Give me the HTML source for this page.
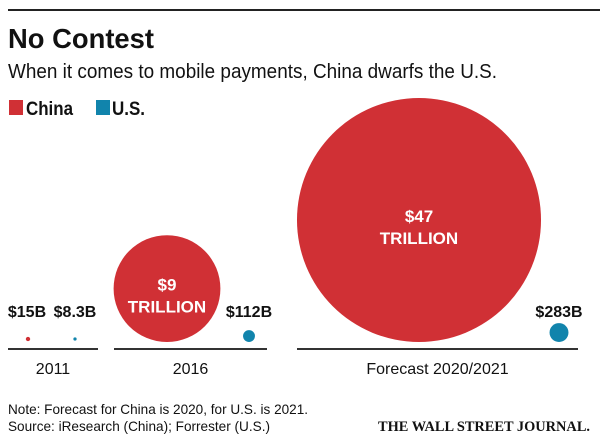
<!DOCTYPE html>
<html><head><meta charset="utf-8"><style>
html,body{margin:0;padding:0;background:#fff;}
svg{display:block;font-family:"Liberation Sans",sans-serif;}
</style></head><body>
<svg id="chart" width="600" height="443" viewBox="0 0 600 443" xmlns="http://www.w3.org/2000/svg">
<line x1="8" y1="10" x2="600" y2="10" stroke="#222" stroke-width="2"/>
<text x="8" y="48" font-size="28" font-weight="bold" fill="#111" textLength="146" lengthAdjust="spacingAndGlyphs">No Contest</text>
<text x="8" y="78" font-size="20" fill="#111" textLength="489" lengthAdjust="spacingAndGlyphs">When it comes to mobile payments, China dwarfs the U.S.</text>
<g>
<rect x="9" y="100" width="14" height="15" fill="#d03035"/>
<text x="26" y="115" font-size="19" font-weight="bold" fill="#111" textLength="47" lengthAdjust="spacingAndGlyphs">China</text>
<rect x="96" y="100" width="14" height="15" fill="#1184ac"/>
<text x="112" y="115" font-size="19" font-weight="bold" fill="#111" textLength="33" lengthAdjust="spacingAndGlyphs">U.S.</text>
</g>
<g id="marks"></g>
<text x="8" y="414" font-size="14" fill="#111" textLength="300" lengthAdjust="spacingAndGlyphs">Note: Forecast for China is 2020, for U.S. is 2021.</text>
<text x="8" y="431" font-size="14" fill="#111" textLength="262" lengthAdjust="spacingAndGlyphs">Source: iResearch (China); Forrester (U.S.)</text>
<text x="590" y="431" text-anchor="end" font-family="'Liberation Serif',serif" font-size="15" font-weight="bold" fill="#111" textLength="212" lengthAdjust="spacingAndGlyphs">THE WALL STREET JOURNAL.</text>
</svg>
<script>
const periods = ["2011", "2016", "Forecast 2020/2021"];
const chinaValues = [15, 9000, 47000];   // billions USD
const usValues = [8.3, 112, 283];        // billions USD
const chinaLabels = [["$15B"], ["$9", "TRILLION"], ["$47", "TRILLION"]];
const usLabels = ["$8.3B", "$112B", "$283B"];

const NS = "http://www.w3.org/2000/svg";
const g = document.getElementById("marks");
const groupX = [[8, 98], [114, 267], [297, 578]];
const chinaCx = [28, 167, 419];
const usCx = [75, 249, 559];
const baseY = 349;
const bubbleBottom = 342;
function rScale(v) { return 0.5628 * Math.sqrt(v); }
function mk(tag, attrs) {
  const e = document.createElementNS(NS, tag);
  for (const k in attrs) e.setAttribute(k, attrs[k]);
  g.appendChild(e);
  return e;
}
periods.forEach((p, i) => {
  const ln = mk("line", {x1: groupX[i][0], x2: groupX[i][1], y1: baseY, y2: baseY, stroke: "#333", "stroke-width": 2});
  
  
  const yl = mk("text", {x: (groupX[i][0] + groupX[i][1]) / 2, y: 374, "text-anchor": "middle", "font-size": 16, fill: "#111"});
  yl.textContent = p;
  
  

  const rc = Math.max(rScale(chinaValues[i]), 2);
  const ccy = i === 0 ? 339 : bubbleBottom - rc;
  const cc = mk("circle", {cx: chinaCx[i], cy: ccy, r: rc, fill: "#d03035"});
  
  
  const ru = Math.max(rScale(usValues[i]), 1.5);
  const ucy = i === 0 ? 339 : bubbleBottom - ru;
  const cu = mk("circle", {cx: usCx[i], cy: ucy, r: ru, fill: "#1184ac"});
  
  

  const ul = mk("text", {x: usCx[i], y: 317, "text-anchor": "middle", "font-size": 16, "font-weight": "bold", fill: "#111"});
  ul.textContent = usLabels[i];
  
  

  const lines = chinaLabels[i];
  if (lines.length === 1) {
    const t = mk("text", {x: chinaCx[i] - 1, y: 317, "text-anchor": "middle", "font-size": 16, "font-weight": "bold", fill: "#111"});
    t.textContent = lines[0];
    
    
  } else {
    lines.forEach((s, j) => {
      const t = mk("text", {x: chinaCx[i], y: ccy + (j === 0 ? 2 : 24), "text-anchor": "middle", "font-size": 17, "font-weight": "bold", fill: "#fff"});
      t.textContent = s;
      
      
    });
  }
});
</script>
</body></html>
